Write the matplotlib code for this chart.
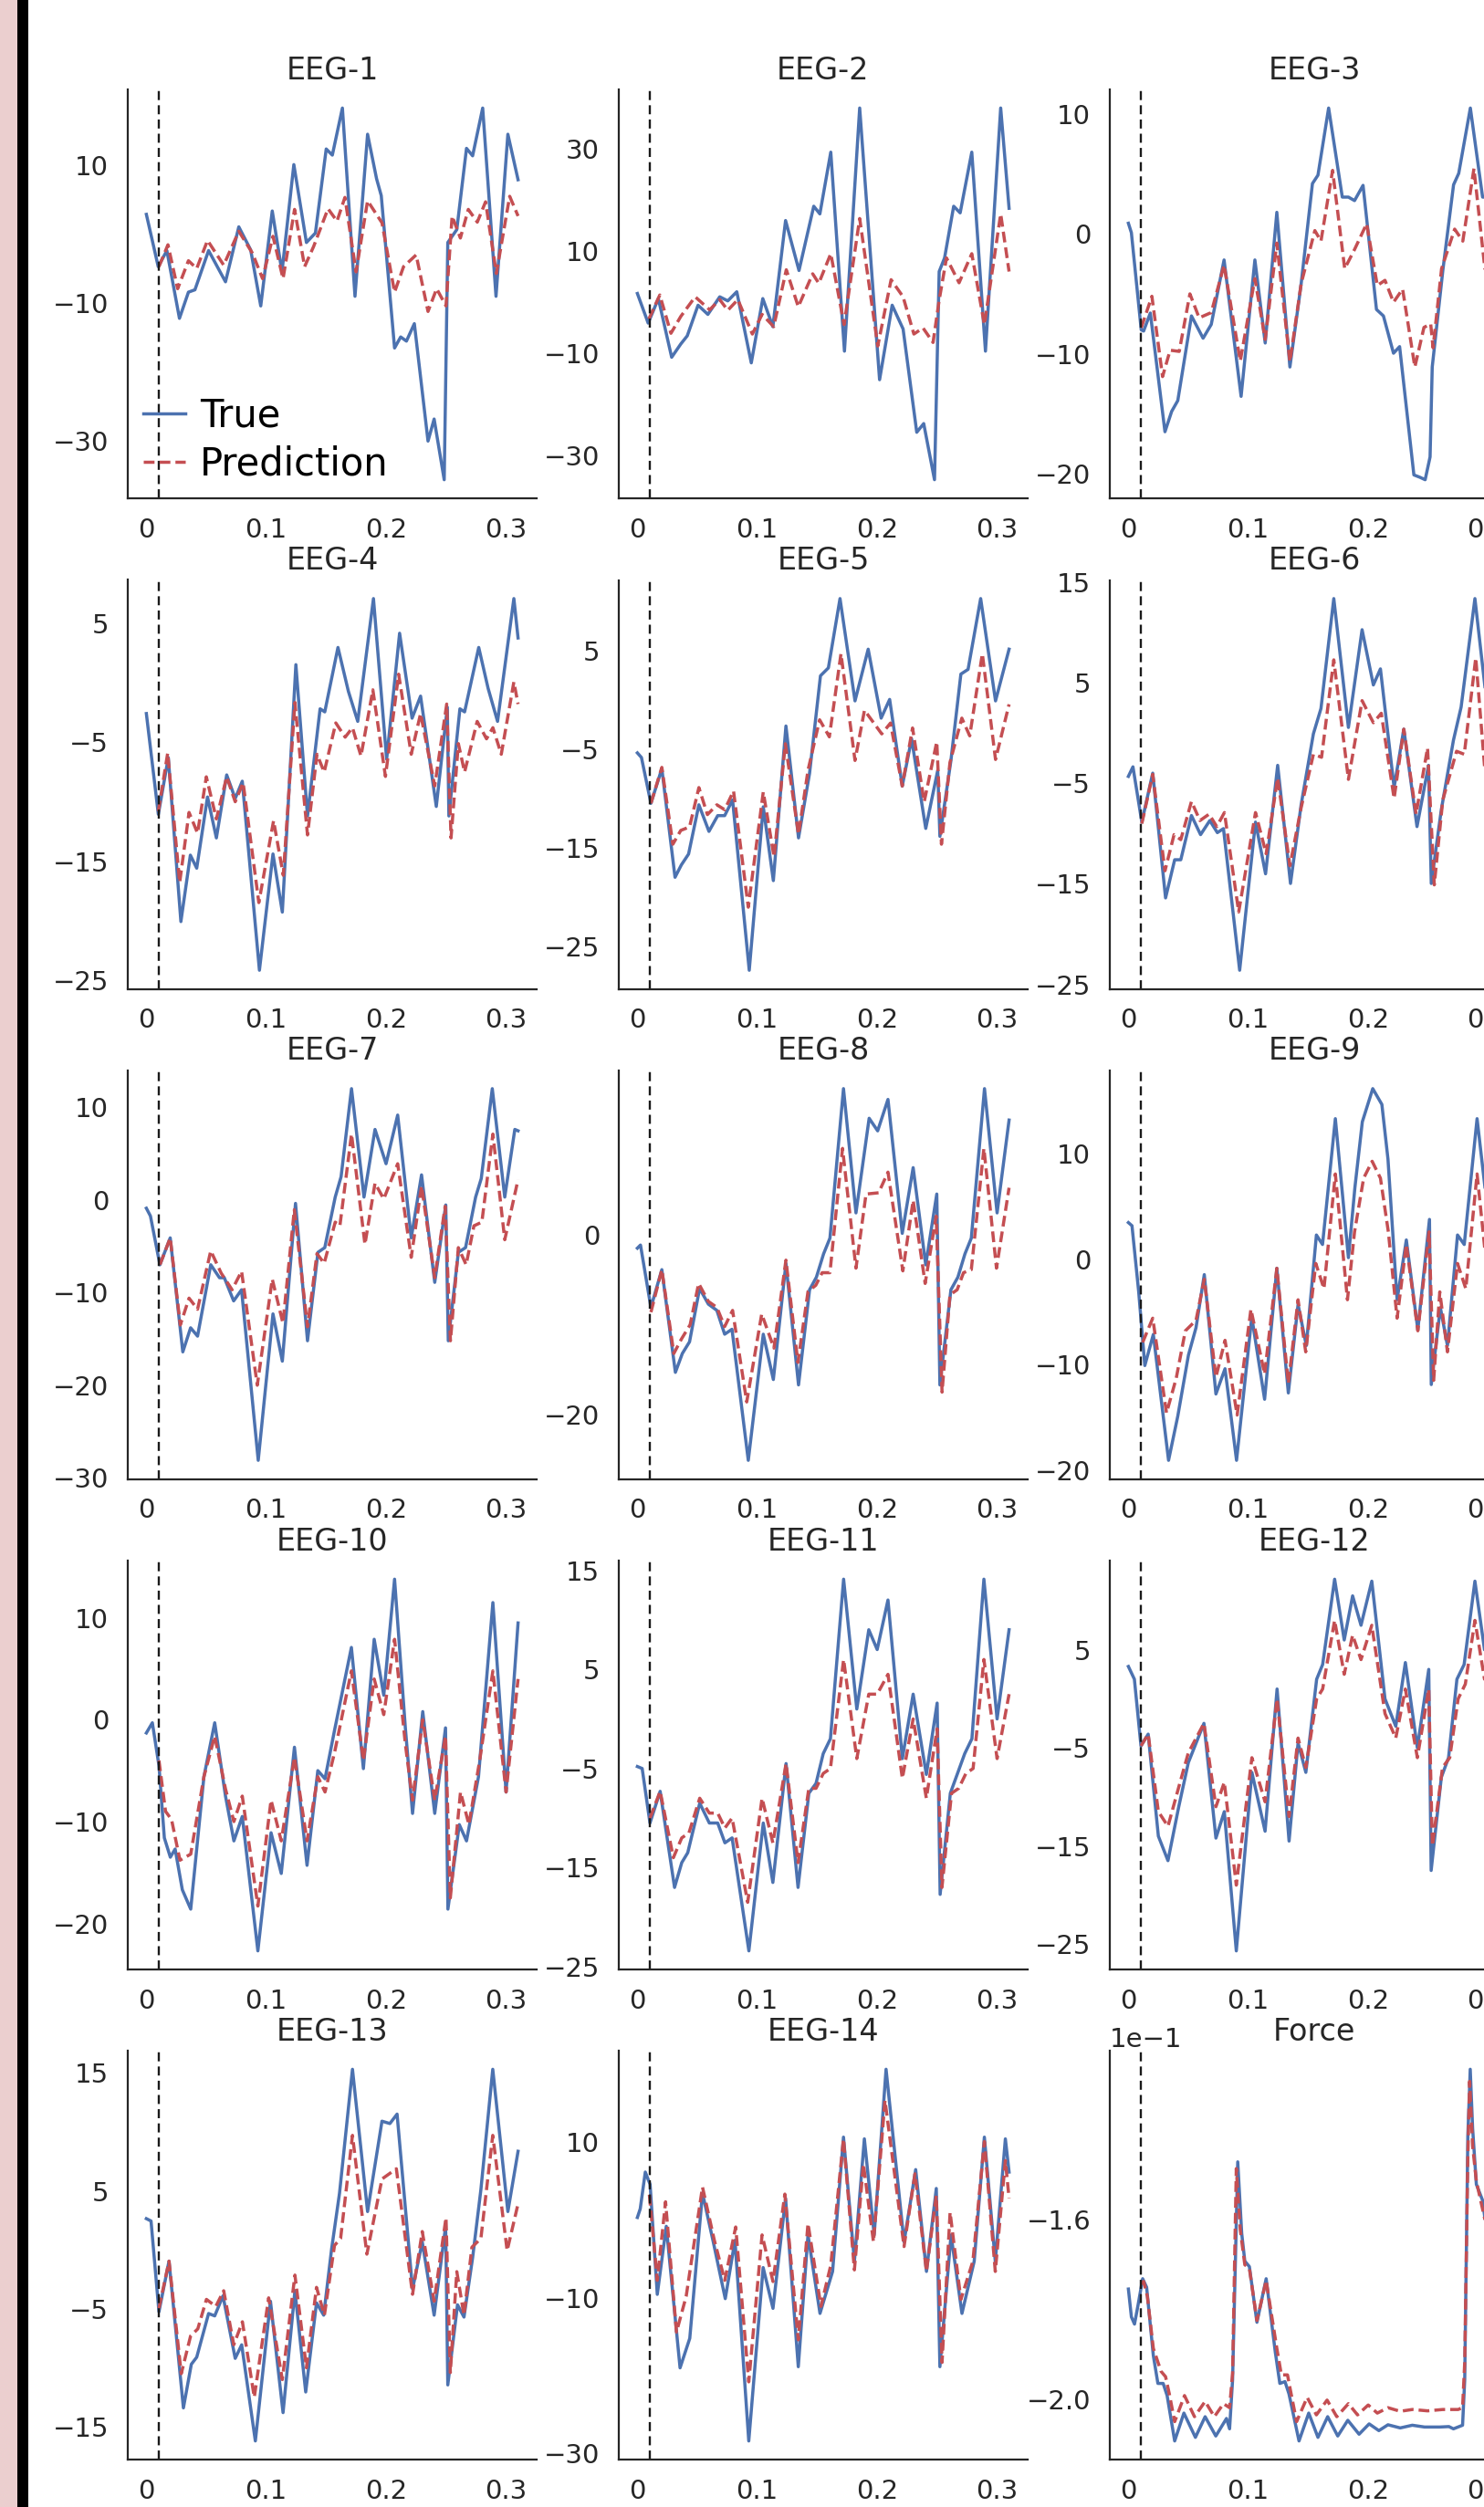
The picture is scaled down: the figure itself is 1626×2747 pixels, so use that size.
import matplotlib
matplotlib.use("Agg")
import matplotlib.pyplot as plt
from matplotlib.patches import Rectangle

plt.rcParams['font.family'] = ['DejaVu Sans']

# ---------------- data: (time [s], value) ----------------
EEG1_TRUE = [(0,2.88),(0.0099,-4.7),(0.0171,-2.37),(0.0276,-12.2),(0.0351,-8.4),(0.0405,-8.06),(0.0519,-2.37),(0.066,-6.9),(0.0771,1.07),(0.087,-2.27),(0.0954,-10.4),(0.105,3.37),(0.1131,-5.46),(0.123,10.1),(0.1335,-1.2),(0.141,0.18),(0.15,12.36),(0.1551,11.47),(0.1635,18.3),(0.174,-9.0),(0.1845,14.5),(0.192,8.04),(0.1959,5.6),(0.207,-16.5),(0.2121,-14.9),(0.2169,-15.5),(0.2235,-12.97),(0.2349,-30.0),(0.24,-26.8),(0.2484,-35.6),(0.2514,-1.2),(0.2589,0.67),(0.267,12.45),(0.2721,11.37),(0.2805,18.3),(0.2916,-9.0),(0.3015,14.5),(0.31,7.9)]
EEG1_PRED = [(0.0105,-4.7),(0.018,-1.53),(0.0261,-7.9),(0.0351,-3.84),(0.042,-4.97),(0.051,-0.9),(0.0645,-4.48),(0.0771,0.43),(0.0885,-2.76),(0.0969,-6.44),(0.1056,-0.3),(0.114,-6.44),(0.1236,3.6),(0.132,-4.7),(0.1395,-1.78),(0.1515,3.7),(0.159,1.9),(0.1656,5.34),(0.1749,-5.46),(0.1845,4.85),(0.1965,1.66),(0.207,-8.4),(0.2145,-4.7),(0.225,-3.0),(0.2349,-11.2),(0.2421,-7.9),(0.2499,-10.4),(0.255,2.64),(0.2619,-0.55),(0.2685,3.6),(0.276,1.75),(0.2829,4.7),(0.2919,-5.7),(0.303,5.5),(0.31,2.64)]

EEG2_TRUE = [(0,1.7),(0.009,-4.1),(0.0175,0.7),(0.0286,-10.8),(0.0362,-8.2),(0.0416,-6.6),(0.0506,-0.6),(0.0588,-2.4),(0.0687,1.05),(0.0754,0.25),(0.0829,2.04),(0.095,-11.9),(0.1046,0.7),(0.113,-4.8),(0.1236,16.0),(0.1348,6.2),(0.1471,18.8),(0.1522,17.3),(0.1613,29.4),(0.1727,-9.6),(0.1854,38.05),(0.202,-15.2),(0.2125,-0.6),(0.2216,-5.25),(0.233,-25.5),(0.2388,-23.8),(0.2478,-34.8),(0.2517,6.0),(0.2562,8.67),(0.2638,18.8),(0.2692,17.5),(0.2789,29.4),(0.2903,-9.6),(0.303,38.05),(0.31,18.4)]
EEG2_PRED = [(0.0096,-3.3),(0.0187,1.4),(0.028,-6.1),(0.0362,-2.8),(0.0482,1.05),(0.0603,-1.5),(0.0687,0.5),(0.0754,-1.6),(0.0838,0.5),(0.0959,-6.25),(0.104,-2.4),(0.1137,-4.8),(0.1242,6.35),(0.1342,-0.9),(0.1462,5.56),(0.1513,3.7),(0.1613,9.5),(0.1724,-4.4),(0.1854,16.4),(0.2005,-8.6),(0.2116,4.4),(0.2216,1.05),(0.2306,-6.25),(0.2382,-5.05),(0.2466,-7.9),(0.2517,0.4),(0.2578,8.67),(0.2683,3.8),(0.2789,9.5),(0.2894,-4.4),(0.303,17.3),(0.31,6.0)]

EEG3_TRUE = [(0,0.89),(0.0025,0.1),(0.0107,-8.0),(0.0127,-8.1),(0.0183,-6.6),(0.0305,-16.5),(0.0361,-14.8),(0.0412,-13.9),(0.0526,-6.84),(0.0623,-8.7),(0.0691,-7.55),(0.0798,-2.17),(0.094,-13.55),(0.1055,-2.17),(0.1141,-9.1),(0.1238,1.8),(0.1347,-11.1),(0.1441,-4.15),(0.1535,4.2),(0.1581,4.9),(0.167,10.5),(0.1784,3.07),(0.1835,3.07),(0.1886,2.78),(0.1957,4.05),(0.2069,-6.3),(0.2127,-6.84),(0.2211,-9.95),(0.2262,-9.4),(0.2381,-20.1),(0.2432,-20.3),(0.2475,-20.5),(0.2516,-18.6),(0.2534,-11.1),(0.2623,-3.0),(0.2712,4.1),(0.2755,5.05),(0.2852,10.5),(0.2954,3.07),(0.3005,3.07),(0.3055,2.8),(0.31,4.0)]
EEG3_PRED = [(0.0107,-7.83),(0.0196,-5.2),(0.0285,-11.9),(0.0348,-9.7),(0.0424,-9.8),(0.0513,-5.0),(0.059,-7.0),(0.0691,-6.56),(0.0798,-2.6),(0.0933,-10.6),(0.1055,-3.73),(0.1141,-8.8),(0.1238,-0.76),(0.1347,-10.66),(0.1441,-4.15),(0.1555,0.28),(0.1606,-0.6),(0.1703,5.3),(0.1804,-2.9),(0.1886,-1.3),(0.1987,0.85),(0.2076,-4.3),(0.214,-3.87),(0.2211,-5.7),(0.2287,-4.6),(0.2389,-11.1),(0.2465,-7.8),(0.2521,-7.5),(0.2541,-9.5),(0.2612,-2.9),(0.2721,0.4),(0.2789,-0.6),(0.2882,5.45),(0.2973,-2.9),(0.305,-1.3),(0.31,0.5)]

EEG4_TRUE = [(0,-2.57),(0.01,-11.06),(0.0183,-6.28),(0.0288,-20.1),(0.0367,-14.5),(0.042,-15.6),(0.051,-9.6),(0.0584,-13.05),(0.067,-7.74),(0.0741,-9.73),(0.08,-8.27),(0.0943,-24.2),(0.1056,-14.4),(0.1134,-19.3),(0.1247,1.55),(0.1344,-11.2),(0.1449,-2.17),(0.1488,-2.43),(0.1598,3.0),(0.1685,-0.7),(0.1763,-3.23),(0.1894,7.12),(0.2004,-6.41),(0.2112,4.2),(0.2216,-2.96),(0.2287,-1.1),(0.2418,-10.4),(0.251,-2.03),(0.2523,-11.2),(0.2615,-2.17),(0.2654,-2.43),(0.2772,3.0),(0.285,-0.44),(0.2929,-3.23),(0.3065,7.12),(0.31,3.8)]
EEG4_PRED = [(0.01,-10.8),(0.0178,-5.9),(0.0278,-16.8),(0.0356,-10.9),(0.0427,-12.65),(0.05,-7.9),(0.0584,-11.45),(0.067,-7.9),(0.0741,-10.0),(0.0807,-8.4),(0.0938,-18.5),(0.1061,-11.6),(0.1142,-16.2),(0.1239,-1.64),(0.1344,-12.8),(0.1423,-6.0),(0.1483,-7.5),(0.158,-3.36),(0.1658,-4.56),(0.1719,-3.76),(0.179,-6.15),(0.1889,-0.57),(0.1994,-7.87),(0.2104,0.75),(0.2209,-6.0),(0.2287,-2.57),(0.2405,-8.67),(0.2505,-1.77),(0.2541,-13.05),(0.2602,-5.1),(0.2654,-7.5),(0.2759,-3.23),(0.2837,-4.7),(0.289,-3.76),(0.296,-6.0),(0.3065,0.09),(0.31,-1.77)]

EEG5_TRUE = [(0,-5.33),(0.0034,-5.8),(0.0113,-10.45),(0.0204,-6.93),(0.0314,-17.96),(0.0367,-16.7),(0.0427,-15.6),(0.0513,-10.6),(0.0597,-13.3),(0.067,-11.7),(0.0728,-11.7),(0.0794,-10.1),(0.0933,-27.4),(0.105,-10.8),(0.1134,-18.3),(0.1239,-2.6),(0.1344,-13.96),(0.1436,-7.4),(0.1527,2.5),(0.1593,3.3),(0.169,10.34),(0.1815,-0.05),(0.1925,5.2),(0.2033,-1.8),(0.2104,0.1),(0.2209,-8.7),(0.2287,-3.9),(0.2405,-13.0),(0.2505,-7.1),(0.2523,-13.8),(0.2615,-6.1),(0.2698,2.67),(0.2758,3.15),(0.2863,10.34),(0.2987,-0.05),(0.31,5.2)]
EEG5_PRED = [(0.0113,-10.45),(0.0204,-6.8),(0.0296,-14.6),(0.0362,-13.2),(0.0435,-12.85),(0.0513,-8.85),(0.0584,-11.6),(0.0663,-10.6),(0.0728,-11.1),(0.0802,-9.2),(0.0925,-21.0),(0.105,-9.3),(0.114,-15.9),(0.1234,-4.4),(0.1344,-13.6),(0.1423,-7.1),(0.152,-1.97),(0.1601,-3.7),(0.1698,4.74),(0.1815,-6.1),(0.1894,-1.0),(0.2038,-3.4),(0.2111,-2.3),(0.2209,-8.7),(0.2295,-2.8),(0.2392,-10.3),(0.2497,-4.2),(0.2536,-14.6),(0.2607,-6.3),(0.2706,-1.8),(0.2772,-3.6),(0.2877,4.74),(0.2987,-6.0),(0.31,-0.4)]

EEG6_TRUE = [(0,-4.3),(0.0038,-3.35),(0.0112,-8.85),(0.0203,-3.98),(0.031,-16.4),(0.0386,-12.6),(0.0437,-12.6),(0.0526,-8.2),(0.0602,-10.1),(0.0679,-8.7),(0.0742,-9.9),(0.0793,-9.5),(0.0928,-23.6),(0.106,-8.85),(0.1144,-14.0),(0.1245,-3.2),(0.1352,-14.96),(0.1441,-7.1),(0.1543,-0.06),(0.1606,2.45),(0.1713,13.4),(0.1835,0.57),(0.1949,10.3),(0.2043,4.8),(0.2102,6.4),(0.2216,-5.4),(0.2297,0.4),(0.2407,-9.3),(0.2503,-3.2),(0.2526,-14.96),(0.261,-7.6),(0.2711,-0.7),(0.2775,2.6),(0.289,13.4),(0.3012,0.57),(0.31,8.0)]
EEG6_PRED = [(0.0112,-9.0),(0.0203,-4.1),(0.0305,-13.7),(0.0381,-10.1),(0.0437,-10.6),(0.0526,-6.8),(0.0597,-8.7),(0.0673,-8.06),(0.0737,-9.3),(0.0801,-7.9),(0.092,-17.8),(0.106,-7.9),(0.1149,-12.0),(0.1245,-4.45),(0.1347,-13.2),(0.1441,-7.4),(0.1543,-2.1),(0.1611,-2.4),(0.1713,7.3),(0.1835,-4.6),(0.1949,3.24),(0.2043,1.04),(0.2109,1.98),(0.2216,-6.5),(0.2297,0.4),(0.2399,-8.06),(0.2495,-1.47),(0.2551,-15.1),(0.2622,-6.65),(0.2737,-1.8),(0.2801,-2.1),(0.2897,7.5),(0.2973,-3.7),(0.302,-4.6),(0.31,2.0)]

EEG7_TRUE = [(0,-0.9),(0.0034,-1.74),(0.0113,-7.0),(0.0199,-4.1),(0.0304,-16.4),(0.0369,-13.8),(0.0427,-14.7),(0.0537,-7.0),(0.061,-8.4),(0.065,-8.4),(0.0728,-10.9),(0.0794,-9.7),(0.0933,-28.1),(0.1056,-12.3),(0.1134,-17.4),(0.1244,-0.38),(0.1344,-15.2),(0.1431,-5.66),(0.1488,-5.15),(0.1575,0.3),(0.1624,2.5),(0.1711,12.0),(0.1815,0.3),(0.1907,7.6),(0.1999,3.9),(0.2096,9.15),(0.2209,-4.1),(0.2295,2.7),(0.2405,-8.9),(0.2497,-0.55),(0.2518,-15.2),(0.2602,-5.66),(0.2662,-5.15),(0.2746,0.3),(0.2793,2.3),(0.2885,12.0),(0.2989,0.3),(0.3073,7.6),(0.31,7.45)]
EEG7_PRED = [(0.0113,-7.0),(0.0199,-4.1),(0.0283,-13.5),(0.0356,-10.6),(0.0427,-11.8),(0.0537,-5.5),(0.0624,-7.9),(0.0715,-9.7),(0.0794,-7.7),(0.0925,-20.0),(0.105,-8.55),(0.1139,-13.3),(0.1234,-1.06),(0.1344,-13.7),(0.1423,-5.8),(0.1483,-6.85),(0.1575,-2.4),(0.1614,-2.8),(0.1711,7.1),(0.1823,-4.8),(0.1907,1.8),(0.198,0.1),(0.2096,3.9),(0.2209,-6.2),(0.2295,1.5),(0.2405,-8.4),(0.2492,-0.7),(0.2536,-15.2),(0.2602,-5.15),(0.2667,-7.0),(0.2732,-2.8),(0.2798,-2.4),(0.289,7.1),(0.2989,-4.3),(0.31,2.2)]

EEG8_TRUE = [(0,-1.47),(0.0026,-1.12),(0.0113,-8.07),(0.0204,-3.86),(0.0317,-15.3),(0.0375,-13.2),(0.0435,-11.9),(0.0519,-5.96),(0.0592,-7.7),(0.0663,-8.4),(0.0728,-11.05),(0.0789,-10.5),(0.0925,-25.1),(0.105,-11.05),(0.1134,-16.1),(0.1239,-3.16),(0.1344,-16.7),(0.1436,-6.1),(0.1493,-4.7),(0.1553,-2.1),(0.1606,-0.35),(0.1719,16.3),(0.1823,2.46),(0.1933,13.0),(0.2004,11.6),(0.209,15.1),(0.2209,0.18),(0.23,7.5),(0.2405,-3.33),(0.2497,4.56),(0.2523,-16.7),(0.2615,-6.1),(0.2673,-4.7),(0.2732,-2.1),(0.2785,-0.35),(0.2895,16.3),(0.3,2.46),(0.31,12.8)]
EEG8_PRED = [(0.0113,-8.6),(0.0204,-3.86),(0.0304,-13.2),(0.0367,-11.6),(0.044,-10.0),(0.0511,-5.4),(0.0592,-7.4),(0.0663,-8.07),(0.0728,-10.2),(0.0794,-8.4),(0.0912,-18.6),(0.1037,-8.8),(0.1139,-12.6),(0.1239,-2.8),(0.1339,-14.2),(0.1423,-6.3),(0.1488,-5.6),(0.1541,-4.2),(0.1606,-4.2),(0.1711,9.65),(0.1823,-3.7),(0.1907,4.56),(0.2012,4.7),(0.209,7.0),(0.2214,-4.0),(0.23,3.86),(0.24,-5.4),(0.2492,2.1),(0.2541,-17.5),(0.2607,-6.67),(0.2667,-6.1),(0.272,-4.2),(0.2785,-3.86),(0.289,9.65),(0.2995,-3.7),(0.31,5.26)]

EEG9_TRUE = [(0,3.48),(0.003,3.18),(0.0086,-3.1),(0.0137,-10.1),(0.0208,-7.14),(0.0335,-19.1),(0.0412,-14.9),(0.0501,-9.1),(0.0564,-6.5),(0.0633,-1.46),(0.073,-12.8),(0.0806,-10.4),(0.0902,-19.1),(0.1029,-5.5),(0.1136,-13.3),(0.1238,-0.86),(0.1334,-12.7),(0.1415,-4.3),(0.1484,-8.2),(0.1568,2.3),(0.1619,1.4),(0.1726,13.35),(0.1835,0.15),(0.1889,6.8),(0.1951,13.05),(0.2038,16.2),(0.2114,14.7),(0.2165,9.5),(0.2241,-3.85),(0.2318,1.83),(0.2414,-6.7),(0.2511,3.78),(0.2526,-11.9),(0.2602,-4.6),(0.2661,-8.2),(0.2745,2.3),(0.2801,1.4),(0.2908,13.35),(0.2974,6.8),(0.3017,0.15),(0.31,8.0)]
EEG9_PRED = [(0.0119,-7.9),(0.0203,-5.6),(0.0318,-14.6),(0.0399,-11.3),(0.0475,-6.8),(0.0564,-5.8),(0.0633,-1.9),(0.073,-11.2),(0.0806,-7.7),(0.0907,-14.8),(0.1022,-4.75),(0.1136,-10.9),(0.1238,-0.86),(0.1334,-11.8),(0.1415,-3.85),(0.1479,-8.8),(0.1563,-0.4),(0.1631,-2.8),(0.1726,8.1),(0.1827,-3.85),(0.1886,2.6),(0.1962,7.7),(0.2033,9.3),(0.2102,7.7),(0.2168,2.6),(0.2241,-5.6),(0.2318,1.4),(0.2414,-6.8),(0.2508,2.6),(0.2546,-11.5),(0.2597,-3.1),(0.2661,-8.8),(0.2745,-0.4),(0.2814,-2.8),(0.2908,8.1),(0.2974,0.8),(0.302,-3.85),(0.31,3.0)]

EEG10_TRUE = [(0,-1.3),(0.005,-0.3),(0.0105,-4.5),(0.015,-11.6),(0.02,-13.5),(0.024,-12.7),(0.03,-16.7),(0.037,-18.6),(0.048,-5.6),(0.057,-0.3),(0.066,-7.5),(0.073,-11.9),(0.08,-9.5),(0.093,-22.7),(0.104,-11.1),(0.1125,-15.1),(0.1235,-2.7),(0.134,-14.3),(0.143,-5.0),(0.149,-5.8),(0.157,-1.0),(0.171,7.1),(0.181,-4.8),(0.19,7.9),(0.198,2.4),(0.207,13.8),(0.216,-0.8),(0.222,-9.2),(0.2305,0.8),(0.2405,-9.2),(0.2495,-0.8),(0.2515,-18.6),(0.261,-10.3),(0.267,-11.9),(0.277,-5.6),(0.289,11.5),(0.3,-7.1),(0.31,9.5)]
EEG10_PRED = [(0.0105,-4.0),(0.016,-9.0),(0.021,-9.8),(0.028,-13.8),(0.037,-13.2),(0.048,-5.6),(0.057,-1.6),(0.066,-6.8),(0.073,-10.0),(0.08,-7.5),(0.093,-18.3),(0.104,-7.9),(0.1125,-11.9),(0.1235,-3.7),(0.134,-11.9),(0.143,-5.6),(0.149,-7.1),(0.157,-3.2),(0.171,4.8),(0.181,-4.0),(0.19,4.0),(0.198,0.5),(0.207,7.9),(0.216,-2.4),(0.222,-7.9),(0.2305,0.0),(0.2405,-7.9),(0.2495,-1.6),(0.2535,-17.5),(0.262,-7.1),(0.269,-10.3),(0.278,-4.0),(0.289,4.8),(0.3,-7.1),(0.31,4.0)]

EEG11_TRUE = [(0,-4.8),(0.004,-5.0),(0.0105,-10.5),(0.019,-7.3),(0.031,-17.0),(0.037,-14.5),(0.042,-13.5),(0.052,-8.5),(0.06,-10.5),(0.067,-10.5),(0.073,-12.5),(0.079,-12.0),(0.093,-23.4),(0.105,-10.5),(0.113,-16.5),(0.124,-4.5),(0.134,-17.0),(0.143,-7.5),(0.149,-6.5),(0.155,-3.5),(0.161,-2.0),(0.172,14.1),(0.183,1.0),(0.193,9.0),(0.2,7.0),(0.209,12.0),(0.221,-4.0),(0.23,2.5),(0.241,-5.6),(0.25,1.6),(0.2525,-17.7),(0.261,-7.5),(0.267,-5.5),(0.273,-3.5),(0.279,-2.0),(0.289,14.1),(0.3,0.0),(0.31,9.0)]
EEG11_PRED = [(0.0105,-10.0),(0.019,-7.3),(0.03,-14.0),(0.037,-12.0),(0.043,-11.5),(0.052,-8.0),(0.06,-9.5),(0.067,-9.5),(0.073,-11.0),(0.079,-10.0),(0.092,-18.5),(0.104,-8.0),(0.113,-12.5),(0.124,-4.5),(0.134,-14.5),(0.143,-7.0),(0.149,-7.0),(0.155,-5.5),(0.161,-5.0),(0.172,6.0),(0.183,-4.0),(0.193,2.5),(0.2,2.5),(0.209,4.5),(0.221,-6.0),(0.23,0.0),(0.241,-8.0),(0.25,-1.0),(0.254,-17.0),(0.262,-7.5),(0.268,-7.0),(0.274,-5.5),(0.28,-5.0),(0.289,6.0),(0.3,-4.0),(0.31,2.5)]

EEG12_TRUE = [(0,3.3),(0.005,2.0),(0.0105,-4.8),(0.0165,-3.6),(0.025,-14.0),(0.033,-16.5),(0.042,-11.0),(0.05,-6.5),(0.063,-2.5),(0.073,-14.2),(0.08,-11.5),(0.09,-25.7),(0.103,-7.5),(0.114,-13.5),(0.124,1.0),(0.134,-14.5),(0.1415,-4.5),(0.148,-7.5),(0.157,2.0),(0.162,3.5),(0.172,12.2),(0.18,6.0),(0.187,10.5),(0.194,7.5),(0.203,12.0),(0.214,0.0),(0.223,-2.8),(0.231,3.7),(0.241,-5.0),(0.2505,3.0),(0.2525,-17.5),(0.261,-8.0),(0.267,-6.0),(0.274,2.0),(0.28,3.5),(0.289,12.0),(0.297,5.0),(0.31,9.0)]
EEG12_PRED = [(0.0105,-4.8),(0.0165,-3.6),(0.025,-11.5),(0.033,-13.0),(0.042,-9.0),(0.05,-5.5),(0.063,-2.5),(0.073,-11.0),(0.08,-8.5),(0.09,-19.0),(0.103,-6.0),(0.114,-10.5),(0.124,0.0),(0.134,-12.0),(0.1415,-4.0),(0.148,-7.0),(0.157,0.0),(0.162,1.0),(0.172,8.0),(0.18,2.5),(0.187,6.5),(0.194,4.0),(0.203,7.5),(0.214,-1.5),(0.223,-4.0),(0.231,1.0),(0.241,-6.0),(0.2505,1.0),(0.2535,-15.0),(0.262,-7.0),(0.268,-6.0),(0.275,0.0),(0.281,1.5),(0.289,8.0),(0.297,2.0),(0.31,6.0)]

EEG13_TRUE = [(0,2.64),(0.0039,2.44),(0.0105,-5.25),(0.0189,-0.96),(0.0309,-13.4),(0.0375,-9.7),(0.042,-9.1),(0.0519,-5.4),(0.057,-5.6),(0.0639,-3.9),(0.0741,-9.2),(0.0795,-8.05),(0.0909,-16.2),(0.1035,-4.36),(0.114,-13.8),(0.1239,-3.47),(0.1329,-12.05),(0.1419,-4.5),(0.1479,-5.54),(0.1545,0.07),(0.1611,4.8),(0.1719,15.3),(0.1845,3.24),(0.1965,10.9),(0.2031,10.7),(0.2091,11.5),(0.222,-3.33),(0.2301,0.66),(0.24,-5.54),(0.2496,2.0),(0.2514,-11.45),(0.2595,-4.66),(0.2649,-5.7),(0.2721,-0.67),(0.279,5.1),(0.2889,15.3),(0.3015,3.24),(0.31,8.35)]
EEG13_PRED = [(0.0105,-4.95),(0.0189,-0.96),(0.0291,-10.5),(0.0369,-7.3),(0.0429,-6.7),(0.0501,-4.2),(0.0579,-4.8),(0.0645,-3.47),(0.0729,-8.05),(0.0801,-6.1),(0.09,-12.5),(0.102,-4.07),(0.1134,-11.0),(0.1239,-2.14),(0.1335,-10.0),(0.1419,-3.18),(0.1485,-5.54),(0.1569,0.37),(0.162,0.96),(0.1719,9.7),(0.1839,-0.37),(0.1965,6.0),(0.2085,6.87),(0.222,-3.77),(0.2301,1.55),(0.24,-4.36),(0.2499,2.73),(0.2535,-10.4),(0.2589,-1.85),(0.2649,-5.54),(0.2715,0.22),(0.279,0.96),(0.2889,9.7),(0.3009,-0.07),(0.31,3.9)]

EEG14_TRUE = [(0,0.34),(0.0024,1.46),(0.0066,6.18),(0.0106,4.6),(0.0166,-9.55),(0.0241,-0.79),(0.0356,-19.0),(0.0437,-15.2),(0.0543,3.48),(0.0633,-2.8),(0.0733,-10.1),(0.0814,-2.6),(0.0929,-28.4),(0.1049,-6.1),(0.1131,-11.35),(0.1236,2.8),(0.1342,-18.85),(0.1423,-1.9),(0.1523,-12.0),(0.1628,-6.6),(0.1719,10.67),(0.181,-5.3),(0.1893,10.45),(0.1975,-1.9),(0.2074,19.4),(0.2224,-2.8),(0.2321,6.5),(0.2411,-6.6),(0.2493,4.07),(0.2523,-18.85),(0.2616,-1.9),(0.2707,-12.0),(0.2809,-5.3),(0.2894,10.67),(0.2985,-5.3),(0.3069,10.45),(0.31,6.18)]
EEG14_PRED = [(0.01,3.26),(0.0166,-7.75),(0.0235,2.36),(0.0326,-14.4),(0.0407,-9.8),(0.0543,4.25),(0.0642,-2.6),(0.0729,-7.75),(0.082,-0.88),(0.0929,-20.8),(0.104,-1.9),(0.1131,-7.9),(0.123,3.35),(0.1342,-15.4),(0.1423,-0.43),(0.1531,-11.1),(0.1613,-5.8),(0.1719,10.45),(0.181,-6.4),(0.1885,7.2),(0.1969,-2.8),(0.2065,15.4),(0.2224,-3.4),(0.2315,5.96),(0.2411,-6.6),(0.2493,3.17),(0.2541,-18.3),(0.2608,1.0),(0.2698,-10.2),(0.2798,-5.3),(0.2894,10.1),(0.2985,-6.6),(0.3069,7.66),(0.31,2.8)]

FORCE_TRUE = [(0,-0.1755),(0.0025,-0.1817),(0.0051,-0.1833),(0.0081,-0.179),(0.0119,-0.1732),(0.0152,-0.1751),(0.0208,-0.1903),(0.0246,-0.1965),(0.029,-0.1965),(0.0323,-0.1992),(0.0386,-0.2093),(0.0463,-0.2031),(0.0559,-0.2085),(0.064,-0.2039),(0.0729,-0.2082),(0.0818,-0.2043),(0.0844,-0.2066),(0.0869,-0.1957),(0.0912,-0.1472),(0.0945,-0.1631),(0.0971,-0.1693),(0.1009,-0.1705),(0.1072,-0.1829),(0.1149,-0.1732),(0.1225,-0.1895),(0.1263,-0.1965),(0.1306,-0.1961),(0.1339,-0.1988),(0.1423,-0.2093),(0.1504,-0.2031),(0.1581,-0.2085),(0.1662,-0.2039),(0.1746,-0.2082),(0.183,-0.2047),(0.1924,-0.2078),(0.2008,-0.2055),(0.2089,-0.207),(0.2165,-0.2057),(0.2267,-0.2064),(0.2368,-0.2058),(0.247,-0.2062),(0.2597,-0.2062),(0.2673,-0.2061),(0.2711,-0.2066),(0.2787,-0.2058),(0.2805,-0.1957),(0.2831,-0.1414),(0.2851,-0.1266),(0.2871,-0.1398),(0.2902,-0.1522),(0.2953,-0.1557),(0.3,-0.165),(0.305,-0.175),(0.31,-0.170)]
FORCE_PRED = [(0.0107,-0.1744),(0.0127,-0.1738),(0.0158,-0.1771),(0.0208,-0.1887),(0.0272,-0.1938),(0.031,-0.195),(0.0341,-0.1988),(0.0386,-0.205),(0.0468,-0.1992),(0.0551,-0.2039),(0.064,-0.2005),(0.0717,-0.2039),(0.0793,-0.201),(0.0844,-0.2019),(0.0869,-0.1942),(0.09,-0.1487),(0.0933,-0.1623),(0.0971,-0.1701),(0.1009,-0.1709),(0.1072,-0.1825),(0.1149,-0.1736),(0.1238,-0.1887),(0.1276,-0.1946),(0.1327,-0.1946),(0.1352,-0.1981),(0.1403,-0.205),(0.1491,-0.1996),(0.1568,-0.2035),(0.1657,-0.2002),(0.1738,-0.2039),(0.1835,-0.201),(0.1911,-0.2035),(0.2,-0.2013),(0.2076,-0.2031),(0.2165,-0.2019),(0.2267,-0.2027),(0.2368,-0.2023),(0.2495,-0.2026),(0.2622,-0.2023),(0.275,-0.2023),(0.2787,-0.2019),(0.2805,-0.1918),(0.2831,-0.146),(0.2846,-0.1293),(0.2871,-0.1437),(0.2902,-0.1515),(0.2973,-0.16),(0.303,-0.170),(0.31,-0.172)]

TITLES = ['EEG-1', 'EEG-2', 'EEG-3', 'EEG-4', 'EEG-5', 'EEG-6', 'EEG-7', 'EEG-8',
          'EEG-9', 'EEG-10', 'EEG-11', 'EEG-12', 'EEG-13', 'EEG-14', 'Force']
SERIES = [(EEG1_TRUE, EEG1_PRED), (EEG2_TRUE, EEG2_PRED), (EEG3_TRUE, EEG3_PRED),
          (EEG4_TRUE, EEG4_PRED), (EEG5_TRUE, EEG5_PRED), (EEG6_TRUE, EEG6_PRED),
          (EEG7_TRUE, EEG7_PRED), (EEG8_TRUE, EEG8_PRED), (EEG9_TRUE, EEG9_PRED),
          (EEG10_TRUE, EEG10_PRED), (EEG11_TRUE, EEG11_PRED), (EEG12_TRUE, EEG12_PRED),
          (EEG13_TRUE, EEG13_PRED), (EEG14_TRUE, EEG14_PRED), (FORCE_TRUE, FORCE_PRED)]
YTICKS = [[-30, -10, 10], [-30, -10, 10, 30], [-20, -10, 0, 10],
          [-25, -15, -5, 5], [-25, -15, -5, 5], [-25, -15, -5, 5, 15],
          [-30, -20, -10, 0, 10], [-20, 0], [-20, -10, 0, 10],
          [-20, -10, 0, 10], [-25, -15, -5, 5, 15], [-25, -15, -5, 5],
          [-15, -5, 5, 15], [-30, -10, 10], [-0.20, -0.16]]
XTICKS = [0, 0.1, 0.2, 0.3]
XTICKLABELS = ['0', '0.1', '0.2', '0.3']
CONTEXT_END = 0.01

# ---------------- styling ----------------
BLUE = '#4C72B0'
RED = '#C44E52'
TXT = '#262626'
FW, FH = 1626, 2747

fig = plt.figure(figsize=(FW / 100, FH / 100), dpi=100)
fig.patches.append(Rectangle((0, 0), 19 / FW, 1, transform=fig.transFigure,
                             facecolor='#EBCFCF', edgecolor='none', zorder=0))
fig.patches.append(Rectangle((19 / FW, 0), 12 / FW, 1, transform=fig.transFigure,
                             facecolor='black', edgecolor='none', zorder=0))

col_left = [140, 678, 1216]
row_top = [98, 635.5, 1172.5, 1710, 2247]
AW, AH = 448, 448

for i, title in enumerate(TITLES):
    r, c = divmod(i, 3)
    ax = fig.add_axes([col_left[c] / FW, 1 - (row_top[r] + AH) / FH, AW / FW, AH / FH])
    tru, pre = SERIES[i]
    ax.plot([p[0] for p in tru], [p[1] for p in tru], color=BLUE, lw=2.5,
            solid_joinstyle='round', label='True')
    ax.plot([p[0] for p in pre], [p[1] for p in pre], color=RED, lw=2.5,
            ls=(0, (3.4, 1.6)), label='Prediction')
    ax.axvline(CONTEXT_END, color='#1a1a1a', lw=1.7, ls=(0, (4.2, 2.4)))
    ax.set_title(title, fontsize=24, color=TXT, pad=8)
    ax.set_xticks(XTICKS)
    ax.set_xticklabels(XTICKLABELS)
    ax.set_yticks(YTICKS[i])
    if title == 'Force':
        ax.ticklabel_format(axis='y', style='sci', scilimits=(0, 0))
        ax.yaxis.get_offset_text().set_fontsize(21)
        ax.yaxis.get_offset_text().set_color(TXT)
    for s in ['top', 'right']:
        ax.spines[s].set_visible(False)
    for s in ['left', 'bottom']:
        ax.spines[s].set_color(TXT)
        ax.spines[s].set_linewidth(1.6)
    ax.tick_params(length=0, pad=15, labelsize=21, labelcolor=TXT)
    ax.set_facecolor('white')
    if i == 0:
        ax.legend(loc='lower left', frameon=False, fontsize=30, handlelength=1.1,
                  handletextpad=0.4, labelspacing=0.25, borderaxespad=0.2,
                  borderpad=0.2)

fig.savefig('out.png', dpi=100, facecolor='white')
